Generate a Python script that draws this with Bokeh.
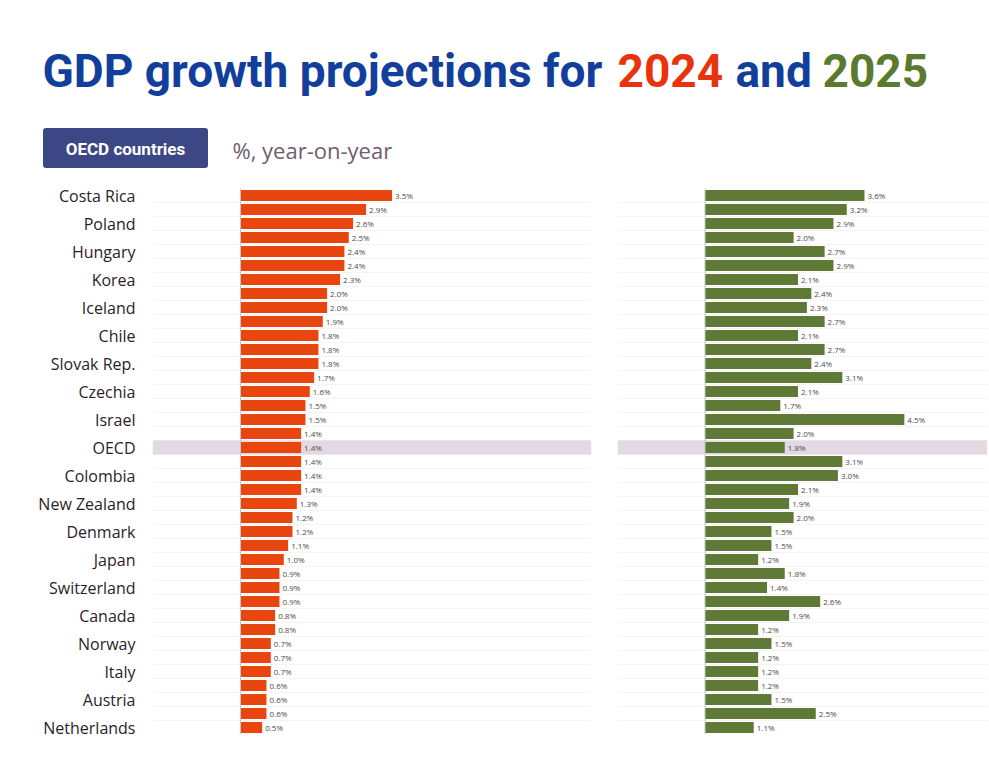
from bokeh.plotting import figure
from bokeh.layouts import column, row
from bokeh.models import ColumnDataSource, Range1d, FixedTicker, Span, BoxAnnotation
from bokeh.core.properties import value
from bokeh.embed import file_html
from bokeh.resources import INLINE

# ---------------- data ----------------
countries = ["Costa Rica", "", "Poland", "", "Hungary", "", "Korea", "", "Iceland", "",
             "Chile", "", "Slovak Rep.", "", "Czechia", "", "Israel", "", "OECD", "",
             "Colombia", "", "New Zealand", "", "Denmark", "", "Japan", "", "Switzerland", "",
             "Canada", "", "Norway", "", "Italy", "", "Austria", "", "Netherlands"]
growth_2024 = [3.5, 2.9, 2.6, 2.5, 2.4, 2.4, 2.3, 2.0, 2.0, 1.9,
               1.8, 1.8, 1.8, 1.7, 1.6, 1.5, 1.5, 1.4, 1.4, 1.4,
               1.4, 1.4, 1.3, 1.2, 1.2, 1.1, 1.0, 0.9, 0.9, 0.9,
               0.8, 0.8, 0.7, 0.7, 0.7, 0.6, 0.6, 0.6, 0.5]
growth_2025 = [3.6, 3.2, 2.9, 2.0, 2.7, 2.9, 2.1, 2.4, 2.3, 2.7,
               2.1, 2.7, 2.4, 3.1, 2.1, 1.7, 4.5, 2.0, 1.8, 3.1,
               3.0, 2.1, 1.9, 2.0, 1.5, 1.5, 1.2, 1.8, 1.4, 2.6,
               1.9, 1.2, 1.5, 1.2, 1.2, 1.2, 1.5, 2.5, 1.1]
highlight = "OECD"
title_main = "GDP growth projections for"
title_y1 = "2024"
title_and = "and"
title_y2 = "2025"
button_text = "OECD countries"
subtitle = "%, year-on-year"

# ---------------- styles ----------------
BLUE = "#123e9c"
RED = "#e8330c"
GREEN = "#5b7a30"
BAR_RED = "#e9460f"
BAR_GREEN = "#5e7a36"
TITLE_FONT = value("Roboto")
BODY_FONT = value("Open Sans")

n = len(countries)
rows_idx = list(range(1, n + 1))
src = ColumnDataSource(dict(
    y=rows_idx,
    v24=growth_2024,
    v25=growth_2025,
    l24=[f"{v:.1f}%" for v in growth_2024],
    l25=[f"{v:.1f}%" for v in growth_2025],
))
hl_idx = countries.index(highlight) + 1

# ---------------- header ----------------
HW, HH = 987, 183
head = figure(width=HW, height=HH, x_range=Range1d(0, HW), y_range=Range1d(HH, 0),
              toolbar_location=None, output_backend="svg", min_border=0)
head.axis.visible = False
head.grid.visible = False
head.outline_line_color = None

tsrc = ColumnDataSource(dict(x=[42, 617, 735, 822], y=[70, 70, 70, 70],
                             t=[title_main, title_y1, title_and, title_y2],
                             c=[BLUE, RED, BLUE, GREEN]))
head.text(x="x", y="y", text="t", text_color="c", source=tsrc, text_font=TITLE_FONT,
          text_font_size="46px", text_font_style="bold", text_baseline="middle")

head.quad(left=[43], right=[207], top=[128], bottom=[167], fill_color="#3c4886",
          line_color="#3c4886", border_radius=2)
head.text(x=[125], y=[148], text=[button_text], text_color="white", text_font=TITLE_FONT,
          text_font_size="17px", text_font_style="bold", text_align="center",
          text_baseline="middle")
head.text(x=[232], y=[149], text=[subtitle], text_color="#6e5d6e", text_font=BODY_FONT,
          text_font_size="22px", text_baseline="middle")

# ---------------- panels ----------------
def panel(values_col, labels_col, color, width, x_start, x_end, left_border, right_border,
          show_labels):
    p = figure(width=width, height=561, x_range=Range1d(x_start, x_end),
               y_range=Range1d(n + 0.5, 0.5), toolbar_location=None, output_backend="svg",
               min_border_left=left_border, min_border_right=right_border,
               min_border_top=5, min_border_bottom=10)
    p.outline_line_color = None
    p.xaxis.visible = False
    p.xgrid.visible = False
    p.ygrid.ticker = FixedTicker(ticks=[i + 0.5 for i in range(0, n + 1)])
    p.ygrid.grid_line_color = "#f5f3f5"
    p.add_layout(BoxAnnotation(bottom=hl_idx - 0.5, top=hl_idx + 0.5,
                               fill_color="#e2d9e2", fill_alpha=1.0, line_color=None,
                               level="underlay"))
    p.hbar(y="y", right=values_col, left=0, height=0.78, fill_color=color,
           line_color=None, source=src)
    p.add_layout(Span(location=0, dimension="height", line_color="#c9c3c9", line_width=1))
    p.text(x=values_col, y="y", text=labels_col, source=src, x_offset=3,
           text_font=BODY_FONT, text_font_size="8px", text_color="#4a4a4a",
           text_baseline="middle")
    if show_labels:
        ticks = [i + 1 for i, c in enumerate(countries) if c]
        p.yaxis.ticker = FixedTicker(ticks=ticks)
        p.yaxis.major_label_overrides = {i + 1: c for i, c in enumerate(countries) if c}
        p.yaxis.axis_line_color = None
        p.yaxis.major_tick_line_color = None
        p.yaxis.minor_tick_line_color = None
        p.yaxis.major_label_text_font = "Open Sans"
        p.yaxis.major_label_text_font_size = "16px"
        p.yaxis.major_label_text_color = "#2b1d2b"
        p.yaxis.major_label_standoff = 11
    else:
        p.yaxis.visible = False
    return p

left = panel("v24", "l24", BAR_RED, 617, -88 / 43.3, 351 / 43.3, 152, 26, True)
right = panel("v25", "l25", BAR_GREEN, 370, -87.5 / 44.3, 282.5 / 44.3, 0, 0, False)

layout = column(head, row(left, right, spacing=0), spacing=0)
open("out.html", "w").write(file_html(layout, INLINE))
